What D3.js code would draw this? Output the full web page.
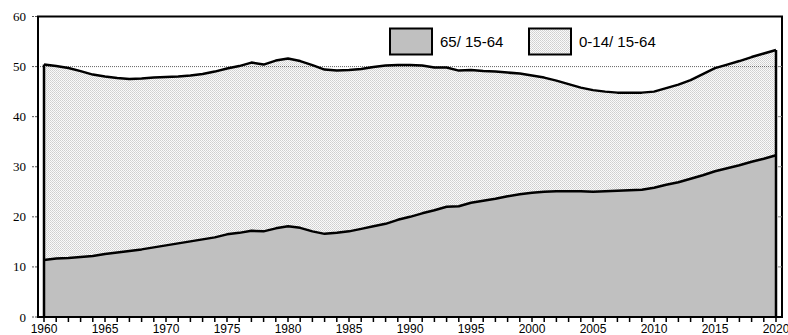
<!DOCTYPE html>
<html>
<head>
<meta charset="utf-8">
<script src="https://cdn.jsdelivr.net/npm/d3@7"></script>
<style>
  body { margin: 0; background: #fff; }
</style>
</head>
<body>
<div id="chart"></div>
<script>
// years 1960..2020
var years = d3.range(1960, 2021)
// 65+/15-64 (old age ratio)
var oldRatio = [11.4, 11.7, 11.8, 12.0, 12.2, 12.6, 12.9, 13.2, 13.5, 13.9,
  14.3, 14.7, 15.1, 15.5, 15.9, 16.5, 16.8, 17.2, 17.1, 17.7,
  18.1, 17.8, 17.1, 16.6, 16.8, 17.1, 17.6, 18.1, 18.6, 19.4,
  20.0, 20.7, 21.3, 22.0, 22.1, 22.8, 23.2, 23.6, 24.1, 24.5,
  24.8, 25.0, 25.1, 25.1, 25.1, 25.0, 25.1, 25.2, 25.3, 25.4,
  25.8, 26.4, 26.9, 27.6, 28.3, 29.1, 29.7, 30.3, 31.0, 31.6, 32.3]
// total = 65+/15-64 + 0-14/15-64 (stacked top line)
var totalRatio = [50.4, 50.1, 49.7, 49.1, 48.4, 48.0, 47.7, 47.5, 47.6, 47.8,
  47.9, 48.0, 48.2, 48.5, 49.0, 49.6, 50.1, 50.8, 50.4, 51.2,
  51.6, 51.1, 50.3, 49.4, 49.2, 49.3, 49.5, 49.9, 50.2, 50.3,
  50.3, 50.2, 49.8, 49.8, 49.2, 49.3, 49.1, 49.0, 48.8, 48.6,
  48.2, 47.8, 47.2, 46.5, 45.8, 45.3, 45.0, 44.8, 44.8, 44.8,
  45.0, 45.7, 46.4, 47.3, 48.5, 49.7, 50.4, 51.1, 51.9, 52.6, 53.3]
var yTicks = [0, 10, 20, 30, 40, 50, 60]
var xLabels = [1960, 1965, 1970, 1975, 1980, 1985, 1990, 1995, 2000, 2005, 2010, 2015, 2020]
var legendNames = ["65/ 15-64", "0-14/ 15-64"]

var W = 788, H = 335
var frame = {left: 38, right: 782, top: 16.5, bottom: 317}

var svg = d3.select("#chart").append("svg")
  .attr("width", W).attr("height", H)

// dotted fill for the young-age part
var defs = svg.append("defs")
var pat = defs.append("pattern")
  .attr("id", "dots").attr("patternUnits", "userSpaceOnUse")
  .attr("width", 2).attr("height", 2)
pat.append("rect").attr("width", 2).attr("height", 2).attr("fill", "#fafafa")
pat.append("rect").attr("width", 1).attr("height", 1).attr("fill", "#cfcfcf")
pat.append("rect").attr("x", 1).attr("y", 1).attr("width", 1).attr("height", 1).attr("fill", "#d8d8d8")

var x = d3.scaleLinear().domain([1960, 2020]).range([44, 776])
var y = d3.scaleLinear().domain([0, 60]).range([frame.bottom, frame.top])

var data = years.map((yr, i) => ({year: yr, old: oldRatio[i], total: totalRatio[i]}))

var areaTotal = d3.area()
  .x(d => x(d.year)).y0(y(0)).y1(d => y(d.total))
var areaOld = d3.area()
  .x(d => x(d.year)).y0(y(0)).y1(d => y(d.old))

svg.append("path").datum(data)
  .attr("d", areaTotal)
  .attr("fill", "url(#dots)")

// gridline at 50
svg.append("line")
  .attr("x1", frame.left).attr("x2", frame.right)
  .attr("y1", y(50)).attr("y2", y(50))
  .attr("stroke", "#666").attr("stroke-width", 1)
  .attr("stroke-dasharray", "1,1")

svg.append("path").datum(data)
  .attr("d", areaOld)
  .attr("fill", "#c0c0c0")

svg.append("path").datum(data)
  .attr("d", d3.line().x(d => x(d.year)).y(d => y(d.total)))
  .attr("fill", "none")
  .attr("stroke", "#000").attr("stroke-width", 2.5).attr("stroke-linejoin", "round")

svg.append("path").datum(data)
  .attr("d", d3.line().x(d => x(d.year)).y(d => y(d.old)))
  .attr("fill", "none")
  .attr("stroke", "#000").attr("stroke-width", 2.5).attr("stroke-linejoin", "round")

// left/right edges of the data area
svg.append("path").datum(data)
  .attr("d", d => "M" + x(1960) + "," + y(0) + "V" + y(d[0].total) +
                  "M" + x(2020) + "," + y(0) + "V" + y(d[d.length - 1].total))
  .attr("stroke", "#000").attr("stroke-width", 2.5)

// frame
svg.append("rect")
  .attr("x", frame.left).attr("y", frame.top)
  .attr("width", frame.right - frame.left).attr("height", frame.bottom - frame.top)
  .attr("fill", "none").attr("stroke", "#000").attr("stroke-width", 2)

// y axis (left, dashed ticks outside)
var yAxis = svg.append("g")
yAxis.selectAll("line").data(yTicks).join("line")
  .attr("x1", frame.left - 6).attr("x2", frame.left)
  .attr("y1", d => y(d)).attr("y2", d => y(d))
  .attr("stroke", "#555").attr("stroke-width", 1).attr("stroke-dasharray", "2,1")
yAxis.selectAll("text").data(yTicks).join("text")
  .attr("x", 26).attr("y", d => y(d) + 4.5)
  .attr("text-anchor", "end")
  .attr("font-family", "Liberation Serif, Times New Roman, serif")
  .attr("font-size", 13)
  .text(d => d)

// right axis ticks inside
svg.append("g").selectAll("line").data(yTicks.slice(1, -1)).join("line")
  .attr("x1", frame.right - 4).attr("x2", frame.right)
  .attr("y1", d => y(d)).attr("y2", d => y(d))
  .attr("stroke", "#888").attr("stroke-width", 1)

// x axis ticks every year
var xAxis = svg.append("g")
xAxis.selectAll("line").data(years).join("line")
  .attr("x1", d => x(d)).attr("x2", d => x(d))
  .attr("y1", frame.bottom).attr("y2", frame.bottom + 5)
  .attr("stroke", "#000").attr("stroke-width", 1.5)
xAxis.selectAll("text").data(xLabels).join("text")
  .attr("x", d => x(d)).attr("y", 333)
  .attr("text-anchor", "middle")
  .attr("font-family", "Liberation Sans, Arial, sans-serif")
  .attr("font-size", 12)
  .text(d => d)

// legend
var legend = svg.append("g")
var legX = [390, 529]
var legFill = ["#c0c0c0", "url(#dots)"]
legendNames.forEach(function(name, i) {
  legend.append("rect")
    .attr("x", legX[i]).attr("y", 28.5).attr("width", 42).attr("height", 26)
    .attr("fill", legFill[i]).attr("stroke", "#000").attr("stroke-width", 2)
  legend.append("text")
    .attr("x", legX[i] + 50).attr("y", 47)
    .attr("font-family", "Liberation Sans, Arial, sans-serif")
    .attr("font-size", 15)
    .text(name)
})
</script>
</body>
</html>
